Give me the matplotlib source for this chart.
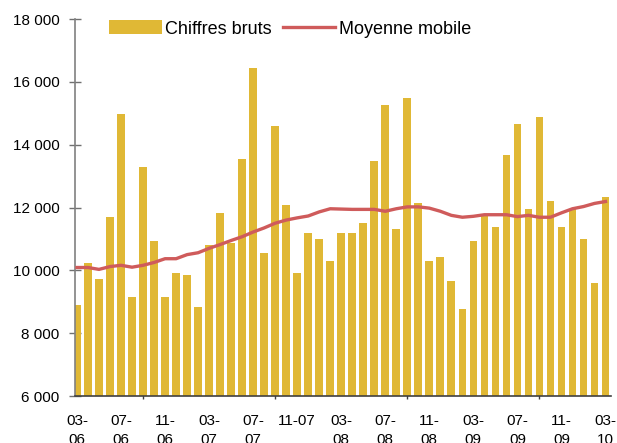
import numpy as np
import pandas as pd
import matplotlib
matplotlib.use('Agg')
import matplotlib.pyplot as plt
from matplotlib.ticker import FuncFormatter

# Monthly figures, 03-06 to 03-10
mois = pd.period_range('2006-03', '2010-03', freq='M').strftime('%m-%y').tolist()

chiffres_bruts = [8890, 10220, 9710, 11690, 14990, 9140, 13280, 10920, 9140, 9900,
                  9840, 8820, 10800, 11810, 10860, 13530, 16450, 10540, 14610, 12070,
                  9900, 11180, 10990, 10290, 11180, 11180, 11500, 13470, 15250, 11300,
                  15500, 12130, 10290, 10410, 9650, 8760, 10920, 11750, 11370, 13660,
                  14670, 11940, 14870, 12200, 11370, 11940, 10990, 9590, 12320]

moyenne_mobile = [10090, 10090, 10030, 10120, 10160, 10100, 10160, 10250, 10370, 10370,
                  10500, 10560, 10700, 10820, 10950, 11070, 11220, 11350, 11500, 11600,
                  11670, 11730, 11860, 11960, 11950, 11940, 11940, 11940, 11880, 11960,
                  12020, 12020, 11980, 11880, 11750, 11690, 11720, 11770, 11770, 11770,
                  11710, 11750, 11690, 11690, 11830, 11960, 12030, 12130, 12190]

# Excel wraps most of the labels on two lines
etiquettes = ['03-\n06', '07-\n06', '11-\n06', '03-\n07', '07-\n07', '11-07',
              '03-\n08', '07-\n08', '11-\n08', '03-\n09', '07-\n09', '11-\n09', '03-\n10']

plt.rcParams['font.family'] = ['Liberation Sans', 'DejaVu Sans']

fig = plt.figure(figsize=(6.17, 4.43), dpi=100)
ax = fig.add_axes([75 / 617, 1 - 396 / 443, 536 / 617, 377 / 443])

x = np.arange(len(mois))
barres = ax.bar(x, chiffres_bruts, width=0.7, color='#E0B835', label='Chiffres bruts', zorder=2)
ligne, = ax.plot(x, moyenne_mobile, color='#CF5B5B', lw=2.4, label='Moyenne mobile', zorder=3)

ax.set_ylim(6000, 18000)
ax.set_xlim(-0.18, 48.5)

# y axis: thousands with a space
ax.set_yticks(range(6000, 18001, 2000))
ax.yaxis.set_major_formatter(FuncFormatter(lambda v, p: '{:,.0f}'.format(v).replace(',', ' ')))
ax.tick_params(axis='y', direction='inout', length=8.5, width=1, color='#707070',
               labelsize=11, pad=7)

# x axis: labels every 4 months, tick marks every 6 months
ax.set_xticks(x[::4])
ax.set_xticklabels(etiquettes, linespacing=1.45)
ax.tick_params(axis='x', which='major', length=0, labelsize=11, pad=13)
ax.set_xticks(x[::6], minor=True)
ax.tick_params(axis='x', which='minor', direction='inout', length=5, width=1, color='#404040')

for s in ['top', 'right']:
    ax.spines[s].set_visible(False)
ax.spines['left'].set_color('#808080')
ax.spines['left'].set_linewidth(1.2)
ax.spines['bottom'].set_color('#404040')
ax.spines['bottom'].set_linewidth(1.2)

ax.legend([barres, ligne], ['Chiffres bruts', 'Moyenne mobile'],
          loc='center', bbox_to_anchor=(290 / 617, 1 - 29 / 443), bbox_transform=fig.transFigure,
          ncol=2, frameon=False, fontsize=13, handlelength=2.9, handleheight=0.8,
          handletextpad=0.2, columnspacing=0.6, borderpad=0)

fig.savefig('out.png', dpi=100)
